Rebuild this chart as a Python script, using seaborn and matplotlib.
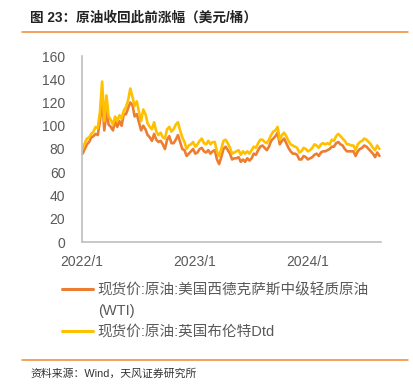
import matplotlib
matplotlib.use("Agg")
import matplotlib.pyplot as plt
import seaborn as sns
import pandas as pd
from matplotlib.lines import Line2D

# ---------------- data (weekly) ----------------
start_date = "2022-01-03"

wti = [
    # 2022
    76, 80, 84, 86, 90, 91, 93, 92, 104, 123, 96, 112, 101,
    99, 96, 104, 99, 104, 100, 110, 110, 115, 120, 118, 108, 110,
    103, 96, 100, 97, 92, 90, 87, 93, 88, 86, 87, 84, 80,
    88, 91, 85, 85, 88, 92, 86, 80, 79, 74, 76, 78, 80,
    # 2023
    76, 77, 80, 81, 78, 77, 79, 76, 78, 79, 71, 67, 73,
    80, 82, 79, 76, 71, 72, 72, 73, 69, 71, 69, 72, 70,
    72, 76, 75, 79, 82, 83, 81, 79, 82, 87, 89, 91, 94,
    84, 87, 89, 85, 81, 78, 76, 76, 75, 71, 71, 74, 73,
    # 2024
    71, 72, 73, 75, 76, 74, 77, 78, 78, 79, 80, 82, 82,
    85, 86, 84, 83, 80, 78, 78, 78, 78, 74, 78, 80, 81,
    83, 82, 80, 78, 76, 73, 77, 74,
]

brent = [
    # 2022
    80, 85, 89, 90, 93, 95, 99, 98, 112, 138, 104, 126, 108,
    105, 101, 108, 104, 109, 106, 113, 116, 122, 132, 125, 117, 121,
    112, 104, 114, 110, 102, 99, 97, 103, 95, 92, 94, 90, 89,
    97, 99, 95, 97, 101, 103, 96, 90, 86, 80, 83, 84, 86,
    # 2023
    82, 84, 87, 89, 85, 84, 87, 84, 86, 86, 78, 74, 80,
    87, 88, 85, 81, 76, 77, 78, 79, 75, 78, 76, 78, 76,
    79, 82, 81, 85, 88, 88, 86, 85, 88, 92, 95, 96, 99,
    88, 92, 94, 91, 87, 84, 83, 82, 81, 77, 78, 81, 80,
    # 2024
    78, 79, 81, 84, 83, 81, 84, 85, 84, 85, 84, 88, 87,
    91, 93, 91, 89, 87, 84, 84, 83, 83, 79, 84, 86, 87,
    89, 88, 86, 84, 81, 79, 83, 80,
]

series_names = [
    "现货价:原油:美国西德克萨斯中级轻质原油",
    "现货价:原油:英国布伦特Dtd",
]
tick_dates = ["2022-01-01", "2023-01-01", "2024-01-01"]
tick_labels = ["2022/1", "2023/1", "2024/1"]
y_ticks = [0, 20, 40, 60, 80, 100, 120, 140, 160]

title = "图 23：原油收回此前涨幅（美元/桶）"
source = "资料来源：Wind，天风证券研究所"

# ---------------- build frame ----------------
dates = pd.date_range(start_date, periods=len(wti), freq="7D")
df = pd.concat([
    pd.DataFrame({"date": dates, "value": wti, "series": series_names[0]}),
    pd.DataFrame({"date": dates, "value": brent, "series": series_names[1]}),
])

C_WTI = "#ED7D31"
C_BRT = "#FFC000"
GREY = "#595959"
SPINE = "#BFBFBF"
RULE = "#F08A30"

sns.set_theme(style="white")
plt.rcParams["font.family"] = ["Liberation Sans", "Noto Sans CJK SC", "DejaVu Sans"]

W, H = 414, 387
fig = plt.figure(figsize=(W / 100, H / 100), dpi=100)
ax = fig.add_axes([82 / W, 1 - 242 / H, (381 - 82) / W, (242 - 56) / H])

sns.lineplot(data=df, x="date", y="value", hue="series",
             palette={series_names[0]: C_WTI, series_names[1]: C_BRT},
             linewidth=1.9, ax=ax, legend=False)

ax.set_ylim(0, 160)
ax.set_yticks(y_ticks)
ax.set_xlim(pd.Timestamp("2022-01-01"), pd.Timestamp("2024-08-24"))
ax.set_xticks(pd.to_datetime(tick_dates))
ax.set_xticklabels(tick_labels)
ax.set_xlabel("")
ax.set_ylabel("")
ax.grid(False)

for s in ["top", "right"]:
    ax.spines[s].set_visible(False)
for s in ["left", "bottom"]:
    ax.spines[s].set_color(SPINE)
    ax.spines[s].set_linewidth(1.2)

ax.tick_params(axis="y", direction="in", length=4, width=1, color=SPINE,
               pad=12, labelsize=10, labelcolor=GREY)
ax.tick_params(axis="x", direction="out", length=4, width=1, color=SPINE,
               pad=5, labelsize=10, labelcolor=GREY)

# legend
handles = [
    Line2D([], [], color=C_WTI, lw=2.2),
    Line2D([], [], color="none", lw=0),
    Line2D([], [], color=C_BRT, lw=2.2),
]
labels = [series_names[0], "(WTI)", series_names[1]]
fig.legend(handles, labels, loc="upper left",
           bbox_to_anchor=(62 / W, 1 - 283 / H), frameon=False,
           fontsize=10.5, handlelength=2.1, handletextpad=0.35,
           labelspacing=0.45, labelcolor=GREY, borderaxespad=0, borderpad=0)

# title, rules and source
fig.text(30 / W, 1 - 18 / H, title, fontsize=9.8, fontweight="bold",
         color="#222222", ha="left", va="center")
fig.add_artist(Line2D([22 / W, 408 / W], [1 - 32 / H, 1 - 32 / H],
                      color=RULE, lw=1.1, transform=fig.transFigure))
fig.add_artist(Line2D([22 / W, 408 / W], [1 - 360 / H, 1 - 360 / H],
                      color=RULE, lw=1.1, transform=fig.transFigure))
fig.text(30 / W, 1 - 374 / H, source, fontsize=7.8, color="#333333",
         ha="left", va="center")

fig.savefig("out.png", dpi=100)
